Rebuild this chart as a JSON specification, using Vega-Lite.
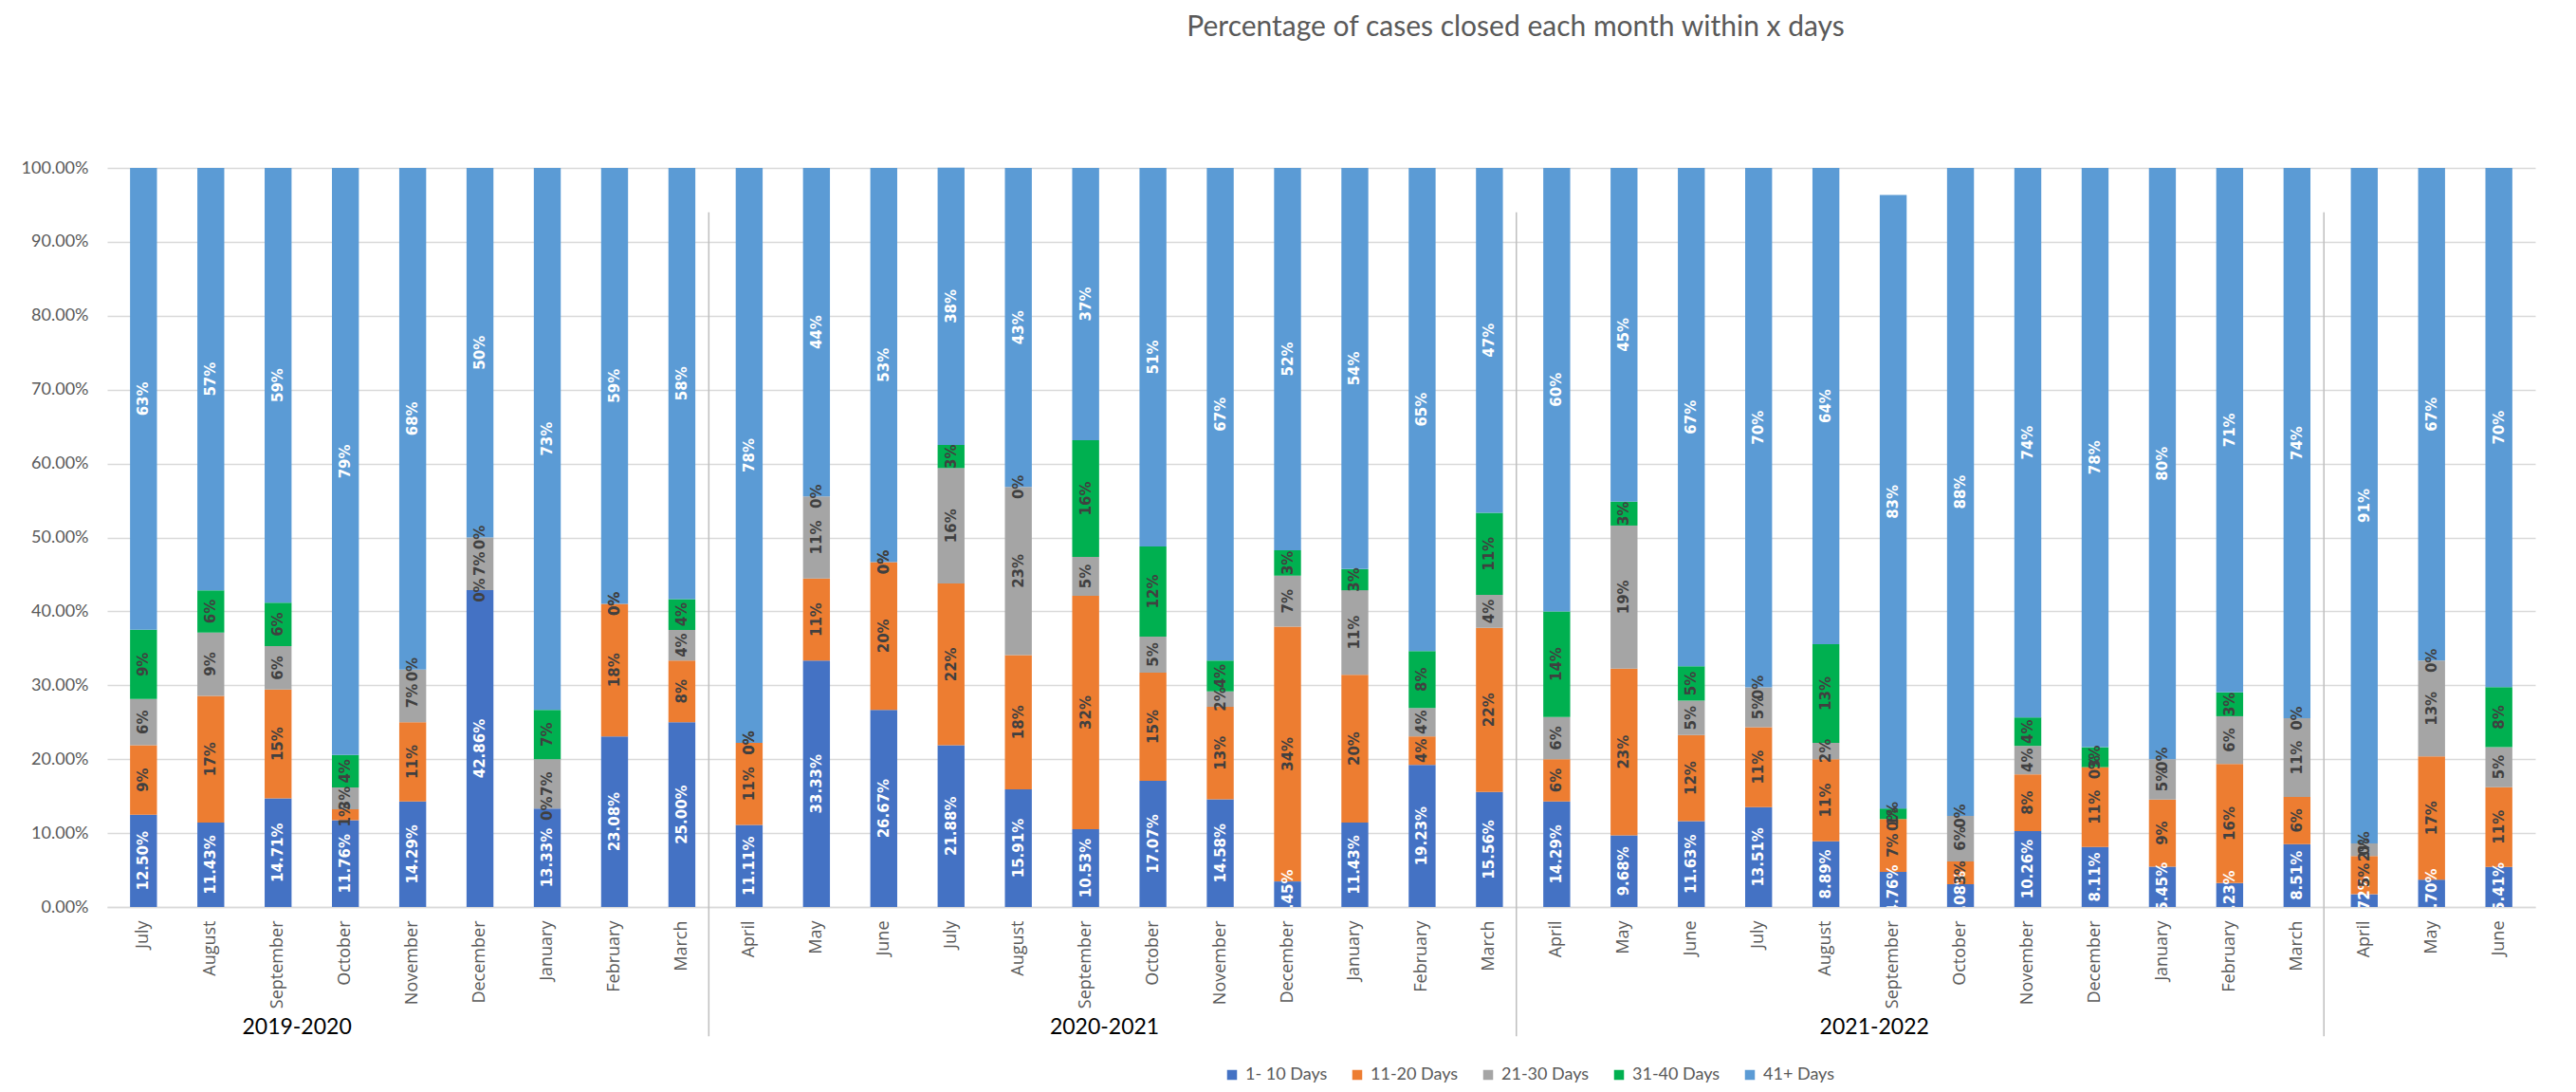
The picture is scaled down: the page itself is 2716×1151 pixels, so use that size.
{
  "$schema": "https://vega.github.io/schema/vega-lite/v6.json",
  "autosize": {"type": "none"},
  "padding": {"left": 113, "top": 177, "right": 43, "bottom": 195},
  "width": 2560,
  "height": 779,
  "background": "white",
  "title": {"text": "Percentage of cases closed each month within x days", "font": "Lato", "fontSize": 30, "fontWeight": "normal", "color": "#595959", "anchor": "middle", "frame": "group", "dx": 205, "offset": 124},
  "config": {
    "view": {"stroke": null},
    "axisX": {"labelAngle": -90, "ticks": false, "grid": false, "domainColor": "#d9d9d9", "domainWidth": 1.5, "labelColor": "#595959", "labelFont": "Open Sans", "labelFontSize": 18, "labelPadding": 14},
    "axisY": {"grid": true, "gridColor": "#d9d9d9", "gridWidth": 1.5, "domain": false, "ticks": false, "labelColor": "#595959", "labelFont": "Lato", "labelFontSize": 18, "labelPadding": 20}
  },
  "datasets": {
    "bars": [
      {"m":"2019-07 July","c":"1- 10 Days","v":0.125},{"m":"2019-07 July","c":"11-20 Days","v":0.0938},{"m":"2019-07 July","c":"21-30 Days","v":0.0625},{"m":"2019-07 July","c":"31-40 Days","v":0.0938},{"m":"2019-07 July","c":"41+ Days","v":0.625},
      {"m":"2019-08 August","c":"1- 10 Days","v":0.1143},{"m":"2019-08 August","c":"11-20 Days","v":0.1714},{"m":"2019-08 August","c":"21-30 Days","v":0.0857},{"m":"2019-08 August","c":"31-40 Days","v":0.0571},{"m":"2019-08 August","c":"41+ Days","v":0.5714},
      {"m":"2019-09 September","c":"1- 10 Days","v":0.1471},{"m":"2019-09 September","c":"11-20 Days","v":0.1471},{"m":"2019-09 September","c":"21-30 Days","v":0.0588},{"m":"2019-09 September","c":"31-40 Days","v":0.0588},{"m":"2019-09 September","c":"41+ Days","v":0.5882},
      {"m":"2019-10 October","c":"1- 10 Days","v":0.1176},{"m":"2019-10 October","c":"11-20 Days","v":0.0147},{"m":"2019-10 October","c":"21-30 Days","v":0.0294},{"m":"2019-10 October","c":"31-40 Days","v":0.0441},{"m":"2019-10 October","c":"41+ Days","v":0.7941},
      {"m":"2019-11 November","c":"1- 10 Days","v":0.1429},{"m":"2019-11 November","c":"11-20 Days","v":0.1071},{"m":"2019-11 November","c":"21-30 Days","v":0.0714},{"m":"2019-11 November","c":"31-40 Days","v":0},{"m":"2019-11 November","c":"41+ Days","v":0.6786},
      {"m":"2019-12 December","c":"1- 10 Days","v":0.4286},{"m":"2019-12 December","c":"11-20 Days","v":0},{"m":"2019-12 December","c":"21-30 Days","v":0.0714},{"m":"2019-12 December","c":"31-40 Days","v":0},{"m":"2019-12 December","c":"41+ Days","v":0.5},
      {"m":"2020-01 January","c":"1- 10 Days","v":0.1333},{"m":"2020-01 January","c":"11-20 Days","v":0},{"m":"2020-01 January","c":"21-30 Days","v":0.0667},{"m":"2020-01 January","c":"31-40 Days","v":0.0667},{"m":"2020-01 January","c":"41+ Days","v":0.7333},
      {"m":"2020-02 February","c":"1- 10 Days","v":0.2308},{"m":"2020-02 February","c":"11-20 Days","v":0.1795},{"m":"2020-02 February","c":"21-30 Days","v":0},{"m":"2020-02 February","c":"31-40 Days","v":0},{"m":"2020-02 February","c":"41+ Days","v":0.5897},
      {"m":"2020-03 March","c":"1- 10 Days","v":0.25},{"m":"2020-03 March","c":"11-20 Days","v":0.0833},{"m":"2020-03 March","c":"21-30 Days","v":0.0417},{"m":"2020-03 March","c":"31-40 Days","v":0.0417},{"m":"2020-03 March","c":"41+ Days","v":0.5833},
      {"m":"2020-04 April","c":"1- 10 Days","v":0.1111},{"m":"2020-04 April","c":"11-20 Days","v":0.1111},{"m":"2020-04 April","c":"21-30 Days","v":0},{"m":"2020-04 April","c":"31-40 Days","v":0},{"m":"2020-04 April","c":"41+ Days","v":0.7778},
      {"m":"2020-05 May","c":"1- 10 Days","v":0.3333},{"m":"2020-05 May","c":"11-20 Days","v":0.1111},{"m":"2020-05 May","c":"21-30 Days","v":0.1111},{"m":"2020-05 May","c":"31-40 Days","v":0},{"m":"2020-05 May","c":"41+ Days","v":0.4444},
      {"m":"2020-06 June","c":"1- 10 Days","v":0.2667},{"m":"2020-06 June","c":"11-20 Days","v":0.2},{"m":"2020-06 June","c":"21-30 Days","v":0},{"m":"2020-06 June","c":"31-40 Days","v":0},{"m":"2020-06 June","c":"41+ Days","v":0.5333},
      {"m":"2020-07 July","c":"1- 10 Days","v":0.2188},{"m":"2020-07 July","c":"11-20 Days","v":0.2188},{"m":"2020-07 July","c":"21-30 Days","v":0.1563},{"m":"2020-07 July","c":"31-40 Days","v":0.0313},{"m":"2020-07 July","c":"41+ Days","v":0.375},
      {"m":"2020-08 August","c":"1- 10 Days","v":0.1591},{"m":"2020-08 August","c":"11-20 Days","v":0.1818},{"m":"2020-08 August","c":"21-30 Days","v":0.2273},{"m":"2020-08 August","c":"31-40 Days","v":0},{"m":"2020-08 August","c":"41+ Days","v":0.4318},
      {"m":"2020-09 September","c":"1- 10 Days","v":0.1053},{"m":"2020-09 September","c":"11-20 Days","v":0.3158},{"m":"2020-09 September","c":"21-30 Days","v":0.0526},{"m":"2020-09 September","c":"31-40 Days","v":0.1579},{"m":"2020-09 September","c":"41+ Days","v":0.3684},
      {"m":"2020-10 October","c":"1- 10 Days","v":0.1707},{"m":"2020-10 October","c":"11-20 Days","v":0.1463},{"m":"2020-10 October","c":"21-30 Days","v":0.0488},{"m":"2020-10 October","c":"31-40 Days","v":0.122},{"m":"2020-10 October","c":"41+ Days","v":0.5122},
      {"m":"2020-11 November","c":"1- 10 Days","v":0.1458},{"m":"2020-11 November","c":"11-20 Days","v":0.125},{"m":"2020-11 November","c":"21-30 Days","v":0.0208},{"m":"2020-11 November","c":"31-40 Days","v":0.0417},{"m":"2020-11 November","c":"41+ Days","v":0.6667},
      {"m":"2020-12 December","c":"1- 10 Days","v":0.0345},{"m":"2020-12 December","c":"11-20 Days","v":0.3448},{"m":"2020-12 December","c":"21-30 Days","v":0.069},{"m":"2020-12 December","c":"31-40 Days","v":0.0345},{"m":"2020-12 December","c":"41+ Days","v":0.5172},
      {"m":"2021-01 January","c":"1- 10 Days","v":0.1143},{"m":"2021-01 January","c":"11-20 Days","v":0.2},{"m":"2021-01 January","c":"21-30 Days","v":0.1143},{"m":"2021-01 January","c":"31-40 Days","v":0.0286},{"m":"2021-01 January","c":"41+ Days","v":0.5429},
      {"m":"2021-02 February","c":"1- 10 Days","v":0.1923},{"m":"2021-02 February","c":"11-20 Days","v":0.0385},{"m":"2021-02 February","c":"21-30 Days","v":0.0385},{"m":"2021-02 February","c":"31-40 Days","v":0.0769},{"m":"2021-02 February","c":"41+ Days","v":0.6538},
      {"m":"2021-03 March","c":"1- 10 Days","v":0.1556},{"m":"2021-03 March","c":"11-20 Days","v":0.2222},{"m":"2021-03 March","c":"21-30 Days","v":0.0444},{"m":"2021-03 March","c":"31-40 Days","v":0.1111},{"m":"2021-03 March","c":"41+ Days","v":0.4667},
      {"m":"2021-04 April","c":"1- 10 Days","v":0.1429},{"m":"2021-04 April","c":"11-20 Days","v":0.0571},{"m":"2021-04 April","c":"21-30 Days","v":0.0571},{"m":"2021-04 April","c":"31-40 Days","v":0.1429},{"m":"2021-04 April","c":"41+ Days","v":0.6},
      {"m":"2021-05 May","c":"1- 10 Days","v":0.0968},{"m":"2021-05 May","c":"11-20 Days","v":0.2258},{"m":"2021-05 May","c":"21-30 Days","v":0.1935},{"m":"2021-05 May","c":"31-40 Days","v":0.0323},{"m":"2021-05 May","c":"41+ Days","v":0.4516},
      {"m":"2021-06 June","c":"1- 10 Days","v":0.1163},{"m":"2021-06 June","c":"11-20 Days","v":0.1163},{"m":"2021-06 June","c":"21-30 Days","v":0.0465},{"m":"2021-06 June","c":"31-40 Days","v":0.0465},{"m":"2021-06 June","c":"41+ Days","v":0.6744},
      {"m":"2021-07 July","c":"1- 10 Days","v":0.1351},{"m":"2021-07 July","c":"11-20 Days","v":0.1081},{"m":"2021-07 July","c":"21-30 Days","v":0.0541},{"m":"2021-07 July","c":"31-40 Days","v":0},{"m":"2021-07 July","c":"41+ Days","v":0.7027},
      {"m":"2021-08 August","c":"1- 10 Days","v":0.0889},{"m":"2021-08 August","c":"11-20 Days","v":0.1111},{"m":"2021-08 August","c":"21-30 Days","v":0.0222},{"m":"2021-08 August","c":"31-40 Days","v":0.1333},{"m":"2021-08 August","c":"41+ Days","v":0.6444},
      {"m":"2021-09 September","c":"1- 10 Days","v":0.0476},{"m":"2021-09 September","c":"11-20 Days","v":0.0714},{"m":"2021-09 September","c":"21-30 Days","v":0},{"m":"2021-09 September","c":"31-40 Days","v":0.0143},{"m":"2021-09 September","c":"41+ Days","v":0.83},
      {"m":"2021-10 October","c":"1- 10 Days","v":0.0308},{"m":"2021-10 October","c":"11-20 Days","v":0.0308},{"m":"2021-10 October","c":"21-30 Days","v":0.0615},{"m":"2021-10 October","c":"31-40 Days","v":0},{"m":"2021-10 October","c":"41+ Days","v":0.8769},
      {"m":"2021-11 November","c":"1- 10 Days","v":0.1026},{"m":"2021-11 November","c":"11-20 Days","v":0.0769},{"m":"2021-11 November","c":"21-30 Days","v":0.0385},{"m":"2021-11 November","c":"31-40 Days","v":0.0385},{"m":"2021-11 November","c":"41+ Days","v":0.7436},
      {"m":"2021-12 December","c":"1- 10 Days","v":0.0811},{"m":"2021-12 December","c":"11-20 Days","v":0.1081},{"m":"2021-12 December","c":"21-30 Days","v":0},{"m":"2021-12 December","c":"31-40 Days","v":0.027},{"m":"2021-12 December","c":"41+ Days","v":0.7838},
      {"m":"2022-01 January","c":"1- 10 Days","v":0.0545},{"m":"2022-01 January","c":"11-20 Days","v":0.0909},{"m":"2022-01 January","c":"21-30 Days","v":0.0545},{"m":"2022-01 January","c":"31-40 Days","v":0},{"m":"2022-01 January","c":"41+ Days","v":0.8},
      {"m":"2022-02 February","c":"1- 10 Days","v":0.0323},{"m":"2022-02 February","c":"11-20 Days","v":0.1613},{"m":"2022-02 February","c":"21-30 Days","v":0.0645},{"m":"2022-02 February","c":"31-40 Days","v":0.0323},{"m":"2022-02 February","c":"41+ Days","v":0.7097},
      {"m":"2022-03 March","c":"1- 10 Days","v":0.0851},{"m":"2022-03 March","c":"11-20 Days","v":0.0638},{"m":"2022-03 March","c":"21-30 Days","v":0.1064},{"m":"2022-03 March","c":"31-40 Days","v":0},{"m":"2022-03 March","c":"41+ Days","v":0.7447},
      {"m":"2022-04 April","c":"1- 10 Days","v":0.0172},{"m":"2022-04 April","c":"11-20 Days","v":0.0517},{"m":"2022-04 April","c":"21-30 Days","v":0.0172},{"m":"2022-04 April","c":"31-40 Days","v":0},{"m":"2022-04 April","c":"41+ Days","v":0.9138},
      {"m":"2022-05 May","c":"1- 10 Days","v":0.037},{"m":"2022-05 May","c":"11-20 Days","v":0.1667},{"m":"2022-05 May","c":"21-30 Days","v":0.1296},{"m":"2022-05 May","c":"31-40 Days","v":0},{"m":"2022-05 May","c":"41+ Days","v":0.6667},
      {"m":"2022-06 June","c":"1- 10 Days","v":0.0541},{"m":"2022-06 June","c":"11-20 Days","v":0.1081},{"m":"2022-06 June","c":"21-30 Days","v":0.0541},{"m":"2022-06 June","c":"31-40 Days","v":0.0811},{"m":"2022-06 June","c":"41+ Days","v":0.7027}
    ],
    "seps": [{"m":"2020-03 March"},{"m":"2021-03 March"},{"m":"2022-03 March"}],
    "groups": [{"m":"2019-09 September","g":"2019-2020"},{"m":"2020-09 September","g":"2020-2021"},{"m":"2021-09 September","g":"2021-2022"}]
  },
  "layer": [
    {
      "data": {"name": "bars"},
      "mark": {"type": "bar"},
      "encoding": {
        "x": {"field": "m", "type": "nominal", "title": null,
              "scale": {"paddingInner": 0.6, "paddingOuter": 0.34},
              "axis": {"labelExpr": "substring(datum.value, 8)"}},
        "y": {"field": "v", "type": "quantitative", "stack": "zero", "title": null,
              "scale": {"domain": [0, 1], "nice": false},
              "axis": {"format": ".2%", "values": [0,0.1,0.2,0.3,0.4,0.5,0.6,0.7,0.8,0.9,1]}},
        "color": {"field": "c", "type": "nominal",
                  "scale": {"domain": ["1- 10 Days","11-20 Days","21-30 Days","31-40 Days","41+ Days"],
                            "range": ["#4472C4","#ED7D31","#A5A5A5","#00B050","#5B9BD5"]},
                  "legend": {"orient": "none", "legendX": 1177, "legendY": 947, "direction": "horizontal", "columns": 5, "title": null,
                             "labelFont": "Lato", "labelFontSize": 18, "labelColor": "#595959", "symbolType": "square",
                             "symbolSize": 110, "symbolStrokeWidth": 0, "columnPadding": 22, "labelOffset": 5}},
        "order": {"field": "c", "type": "ordinal", "sort": "ascending"}
      }
    },
    {
      "data": {"name": "bars"},
      "mark": {"type": "text", "angle": 270, "align": "center", "baseline": "middle", "font": "DejaVu Sans", "fontWeight": "bold", "fontSize": 15, "clip": true},
      "encoding": {
        "x": {"field": "m", "type": "nominal", "title": null},
        "y": {"field": "v", "type": "quantitative", "stack": "zero", "bandPosition": 0.5, "title": null},
        "detail": {"field": "c", "type": "nominal"},
        "order": {"field": "c", "type": "ordinal", "sort": "ascending"},
        "text": {"condition": {"test": "datum.c === '1- 10 Days'", "field": "v", "type": "quantitative", "format": ".2%"},
                 "field": "v", "type": "quantitative", "format": ".0%"},
        "color": {"condition": {"test": "datum.c === '1- 10 Days' || datum.c === '41+ Days'", "value": "#ffffff"}, "value": "#404040"}
      }
    },
    {
      "data": {"name": "seps"},
      "mark": {"type": "rule", "color": "#bfbfbf", "strokeWidth": 1.5},
      "encoding": {
        "x": {"field": "m", "type": "nominal", "title": null, "bandPosition": 1.5},
        "y": {"datum": 0.94},
        "y2": {"datum": -0.175}
      }
    },
    {
      "data": {"name": "groups"},
      "transform": [{"filter": "datum.g !== '2021-2022'"}],
      "mark": {"type": "text", "font": "Lato", "fontSize": 23, "color": "#000000", "align": "center", "baseline": "middle"},
      "encoding": {
        "x": {"field": "m", "type": "nominal", "title": null, "bandPosition": 1.2},
        "y": {"datum": -0.163},
        "text": {"field": "g"}
      }
    },
    {
      "data": {"name": "groups"},
      "transform": [{"filter": "datum.g === '2021-2022'"}],
      "mark": {"type": "text", "font": "Lato", "fontSize": 23, "color": "#000000", "align": "center", "baseline": "middle"},
      "encoding": {
        "x": {"field": "m", "type": "nominal", "title": null, "bandPosition": -0.2},
        "y": {"datum": -0.163},
        "text": {"field": "g"}
      }
    }
  ]
}
